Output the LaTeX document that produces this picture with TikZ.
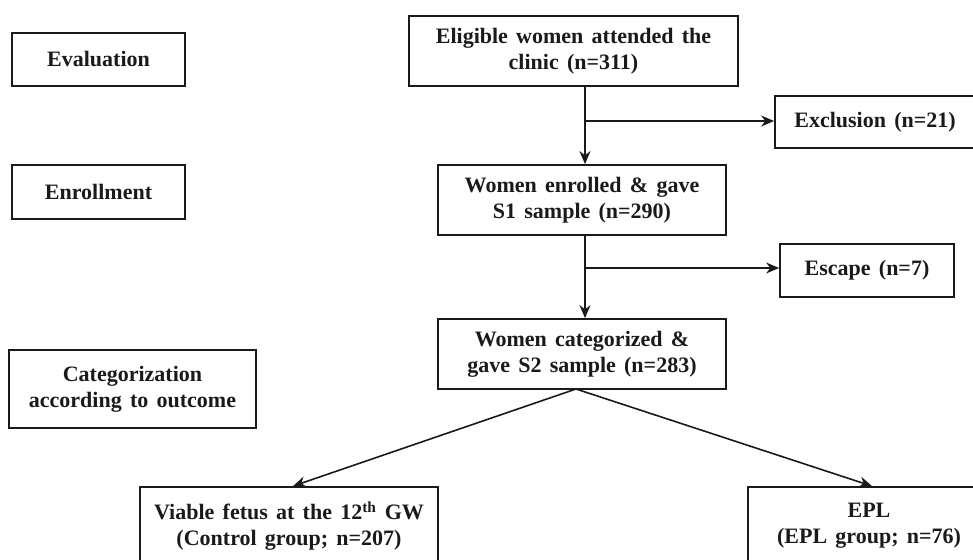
\documentclass[tikz,border=0pt]{standalone}
\usepackage{fontspec}
\setmainfont{Liberation Serif}[WordSpace={1.5,1,1}]
\usetikzlibrary{arrows.meta}
\definecolor{ink}{HTML}{1A1A1A}
\begin{document}
\begin{tikzpicture}[x=1pt,y=-1pt,
  box/.style={draw=ink, line width=1.8pt, align=center, inner sep=0pt,
    text=ink, font=\fontsize{22}{26}\selectfont\bfseries},
  arr/.style={draw=ink, line width=1.6pt, -{Stealth[length=13pt,width=11pt]}}]
\useasboundingbox (0,0) rectangle (973,559);
\clip (0,0) rectangle (973,559);
% left column
\node[box, minimum width=173pt, minimum height=53pt] (eval) at (98.5,59.5) {Evaluation};
\node[box, minimum width=173pt, minimum height=54pt] (enrol) at (98.5,192) {Enrollment};
\node[box, minimum width=247pt, minimum height=78pt] (cat) at (132.5,389) {Categorization\\according to outcome};
% main flow
\node[box, minimum width=329pt, minimum height=70pt] (elig) at (573.5,51) {Eligible women attended the\\clinic (n=311)};
\node[box, minimum width=288pt, minimum height=70pt] (enr) at (582,200) {Women enrolled \& gave\\S1 sample (n=290)};
\node[box, minimum width=288pt, minimum height=70pt] (categ) at (582,354) {Women categorized \&\\gave S2 sample (n=283)};
\node[box, minimum width=200pt, minimum height=52pt] (excl) at (875,122) {Exclusion (n=21)};
\node[box, minimum width=174pt, minimum height=53pt] (esc) at (867,270.5) {Escape (n=7)};
\node[box, minimum width=298pt, minimum height=78pt] (viable) at (289,526) {Viable fetus at the 12\textsuperscript{th} GW\\(Control group; n=207)};
\node[box, minimum width=242pt, minimum height=78pt] (epl) at (869,526) {EPL\\(EPL group; n=76)};
% connectors
\coordinate (b1) at (585,121);
\coordinate (b2) at (585,268);
\coordinate (split) at (576,389);
\draw[arr] (elig.south -| b1) -- (enr.north -| b1);
\draw[arr] (b1) -- (excl.west |- b1);
\draw[arr] (enr.south -| b2) -- (categ.north -| b2);
\draw[arr] (b2) -- (esc.west |- b2);
\draw[arr] (split) -- ([xshift=4pt]viable.north);
\draw[arr] (split) -- ([xshift=3pt]epl.north);
\end{tikzpicture}
\end{document}
